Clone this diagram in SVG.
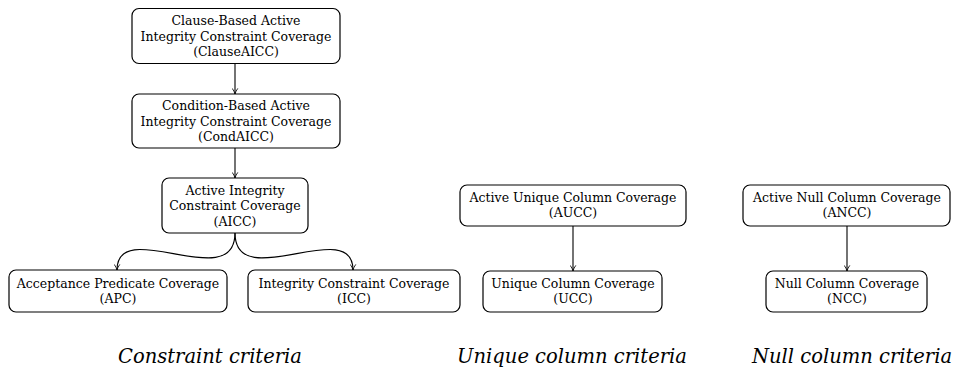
<svg xmlns="http://www.w3.org/2000/svg" width="957" height="372" viewBox="0 0 957 372">
<style>
.box{fill:#fff;stroke:#000;stroke-width:1.2}
.t{font-family:"DejaVu Serif","Liberation Serif",serif;font-size:12.5px;text-anchor:middle;dominant-baseline:central;fill:#000}
.cap{font-family:"DejaVu Serif","Liberation Serif",serif;font-style:italic;font-size:19.5px;text-anchor:middle;fill:#000}
.c{fill:none;stroke:#000;stroke-width:1.1}
</style>
<defs>
<marker id="ah" viewBox="0 0 10 10" refX="9" refY="5" markerWidth="7" markerHeight="7" orient="auto" markerUnits="userSpaceOnUse">
<path d="M1,1 Q5,4 9,5 Q5,6 1,9" fill="none" stroke="#000" stroke-width="1.2"/>
</marker>
</defs>
<g id="connectors">
<line class="c" x1="235" y1="63" x2="235" y2="94" marker-end="url(#ah)"/>
<line class="c" x1="235" y1="148" x2="235" y2="178" marker-end="url(#ah)"/>
<path class="c" d="M235,233 C235,295 117,215 117,270" marker-end="url(#ah)"/>
<path class="c" d="M235,233 C235,295 353,215 353,270" marker-end="url(#ah)"/>
<line class="c" x1="573" y1="226" x2="573" y2="271" marker-end="url(#ah)"/>
<line class="c" x1="847" y1="226" x2="847" y2="271" marker-end="url(#ah)"/>
</g>
<g id="clauseaicc">
<rect class="box" x="132" y="8.5" width="208" height="55" rx="7"/>
<text class="t" x="236" y="20.5">Clause-Based Active</text>
<text class="t" x="236" y="36.5">Integrity Constraint Coverage</text>
<text class="t" x="236" y="51.5">(ClauseAICC)</text>
</g>
<g id="condaicc">
<rect class="box" x="132" y="94" width="208" height="54" rx="7"/>
<text class="t" x="236" y="105.5">Condition-Based Active</text>
<text class="t" x="236" y="121.5">Integrity Constraint Coverage</text>
<text class="t" x="236" y="136.5">(CondAICC)</text>
</g>
<g id="aicc">
<rect class="box" x="162" y="178" width="146" height="55" rx="7"/>
<text class="t" x="235" y="190.5">Active Integrity</text>
<text class="t" x="235" y="205.5">Constraint Coverage</text>
<text class="t" x="235" y="221">(AICC)</text>
</g>
<g id="apc">
<rect class="box" x="9" y="270" width="218" height="42" rx="7"/>
<text class="t" x="118" y="283">Acceptance Predicate Coverage</text>
<text class="t" x="118" y="298">(APC)</text>
</g>
<g id="icc">
<rect class="box" x="248" y="270" width="212" height="42" rx="7"/>
<text class="t" x="354" y="283">Integrity Constraint Coverage</text>
<text class="t" x="354" y="298">(ICC)</text>
</g>
<g id="aucc">
<rect class="box" x="460" y="185" width="226" height="41" rx="7"/>
<text class="t" x="573" y="197.5">Active Unique Column Coverage</text>
<text class="t" x="573" y="212.5">(AUCC)</text>
</g>
<g id="ucc">
<rect class="box" x="483" y="271" width="179" height="41" rx="7"/>
<text class="t" x="573" y="283.5">Unique Column Coverage</text>
<text class="t" x="573" y="298.5">(UCC)</text>
</g>
<g id="ancc">
<rect class="box" x="743" y="185" width="207" height="41" rx="7"/>
<text class="t" x="847" y="197.5">Active Null Column Coverage</text>
<text class="t" x="847" y="212.5">(ANCC)</text>
</g>
<g id="ncc">
<rect class="box" x="766" y="271" width="161" height="41" rx="7"/>
<text class="t" x="847" y="283.5">Null Column Coverage</text>
<text class="t" x="847" y="298.5">(NCC)</text>
</g>
<g id="captions">
<text class="cap" x="210" y="363">Constraint criteria</text>
<text class="cap" x="572" y="363">Unique column criteria</text>
<text class="cap" x="852" y="363">Null column criteria</text>
</g>
</svg>
